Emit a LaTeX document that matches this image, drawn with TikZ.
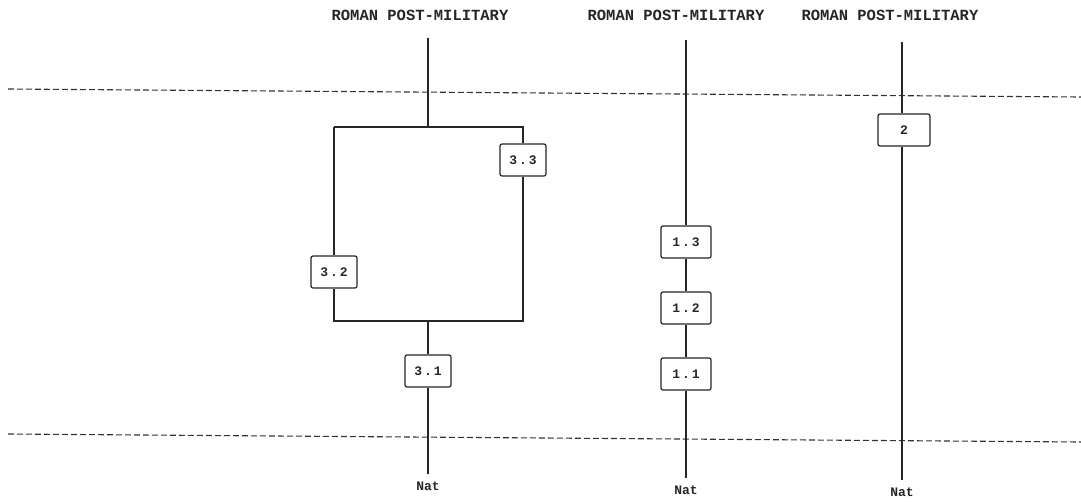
\documentclass[tikz,border=0pt]{standalone}
\usepackage{fontspec}
\newfontfamily\monofont{Liberation Mono}
\newfontfamily\boxfont[LetterSpace=15]{Liberation Mono}
\begin{document}
\begin{tikzpicture}[x=1pt,y=-1pt,
  wire/.style={line width=1.3pt,black!85},
  sep/.style={line width=1.1pt,black!80,dash pattern=on 6pt off 3pt},
  title/.style={font=\monofont\bfseries\fontsize{15.5}{17}\selectfont,text=black!85,inner sep=0pt},
  natlbl/.style={font=\monofont\bfseries\fontsize{13}{14}\selectfont,text=black!85,inner sep=0pt},
  stepbox/.style={draw=black!85,line width=1.2pt,rounded corners=2pt,fill=white,
    minimum width=46pt,minimum height=32pt,inner sep=0pt,
    font=\boxfont\bfseries\fontsize{13}{14}\selectfont,text=black!85}]
\useasboundingbox (0,0) rectangle (1081,501);
\fill[white] (0,0) rectangle (1081,501);
% separators
\coordinate (sl1) at (8,89);
\coordinate (sr1) at (1081,97);
\coordinate (sl2) at (8,434);
\coordinate (sr2) at (1081,442);
\draw[sep] (sl1) -- (sr1);
\draw[sep] (sl2) -- (sr2);
% titles
\node[title] (h1) at (420,15) {ROMAN POST-MILITARY};
\node[title] (h2) at (676,15) {ROMAN POST-MILITARY};
\node[title] (h3) at (890,15) {ROMAN POST-MILITARY};
% column 1
\coordinate (t1) at (428,38);
\coordinate (jt) at (428,127);
\coordinate (tl) at (334,127);
\coordinate (tr) at (523,127);
\coordinate (br) at (523,321);
\coordinate (bl) at (334,321);
\coordinate (jb) at (428,321);
\coordinate (e1) at (428,474);
\node[stepbox] (b33) at (523,160) {3.3};
\node[stepbox] (b32) at (334,272) {3.2};
\node[stepbox] (b31) at (428,371) {3.1};
\node[natlbl] (n1) at (428,486) {Nat};
\draw[wire] (t1) -- (jt);
\draw[wire] (tl) -- (tr) -- (b33.north);
\draw[wire] (b33.south) -- (br) -- (bl) -- (b32.south);
\draw[wire] (b32.north) -- (tl);
\draw[wire] (jb) -- (b31.north);
\draw[wire] (b31.south) -- (e1);
% column 2
\coordinate (t2) at (686,40);
\coordinate (e2) at (686,478);
\node[stepbox,minimum width=50pt] (b13) at (686,242) {1.3};
\node[stepbox,minimum width=50pt] (b12) at (686,308) {1.2};
\node[stepbox,minimum width=50pt] (b11) at (686,374) {1.1};
\node[natlbl] (n2) at (686,490) {Nat};
\draw[wire] (t2) -- (b13.north);
\draw[wire] (b13.south) -- (b12.north);
\draw[wire] (b12.south) -- (b11.north);
\draw[wire] (b11.south) -- (e2);
% column 3
\coordinate (t3) at (902,42);
\coordinate (e3) at (902,480);
\node[stepbox,minimum width=52pt] (b2) at (904,130) {2};
\node[natlbl] (n3) at (902,492) {Nat};
\draw[wire] (t3) -- (t3 |- b2.north);
\draw[wire] (t3 |- b2.south) -- (e3);
\end{tikzpicture}
\end{document}
